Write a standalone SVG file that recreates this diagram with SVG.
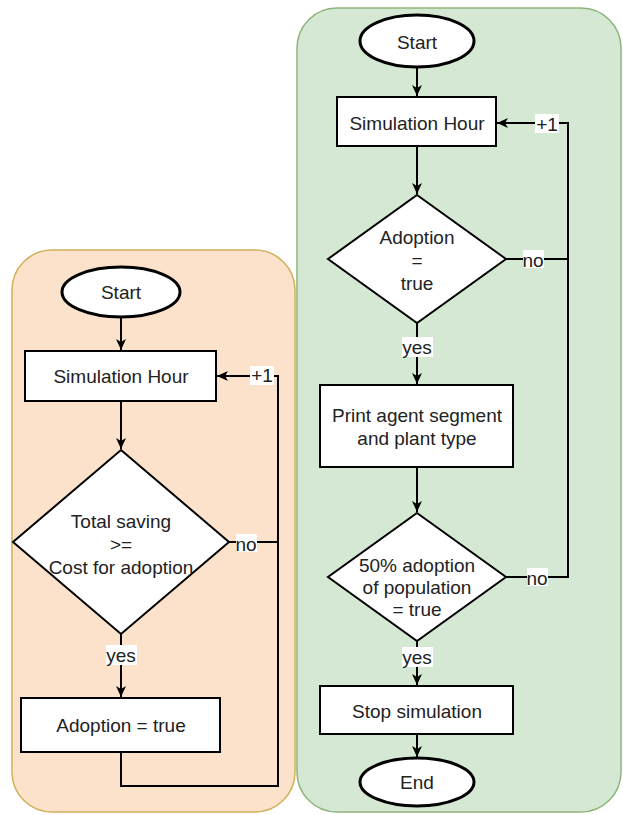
<svg xmlns="http://www.w3.org/2000/svg" width="623" height="815" viewBox="0 0 623 815">
<defs>
<marker id="arr" markerWidth="12" markerHeight="12" refX="11" refY="6" orient="auto" markerUnits="userSpaceOnUse">
<path d="M0,1 L11,6 L0,11 L3,6 Z" fill="#000"/>
</marker>
<style>
.panel-o{fill:#FCE2CB;stroke:#D2B05A;stroke-width:1.5}
.panel-g{fill:#D5E8D4;stroke:#8DB57A;stroke-width:1.5}
.box{fill:#fff;stroke:#000;stroke-width:2}
.term{fill:#fff;stroke:#000;stroke-width:3}
.t{font-family:"Liberation Sans",Arial,sans-serif;font-size:19px;fill:#222;text-anchor:middle;dominant-baseline:central}
.lbl{fill:#fff}
.edge{fill:none;stroke:#000;stroke-width:2}
.arrow{marker-end:url(#arr)}
</style>
</defs>

<rect id="panel-left" class="panel-o" x="12" y="250" width="283" height="562" rx="40"/>
<rect id="panel-right" class="panel-g" x="297" y="8" width="324" height="804" rx="40"/>

<g id="connectors">
<!-- left -->
<path class="edge arrow" d="M121,318 L121,350"/>
<path class="edge arrow" d="M121,401 L121,449"/>
<path class="edge arrow" d="M229,542 L278,542 L278,376 L217,376"/>
<path class="edge arrow" d="M121,634 L121,697"/>
<path class="edge" d="M121,752 L121,786 L278,786 L278,542"/>
<!-- right -->
<path class="edge arrow" d="M417,67 L417,96"/>
<path class="edge arrow" d="M417,146 L417,194"/>
<path class="edge" d="M506,259 L568,259"/>
<path class="edge arrow" d="M506,577 L568,577 L568,123 L497,123"/>
<path class="edge arrow" d="M417,323 L417,384"/>
<path class="edge arrow" d="M417,467 L417,512"/>
<path class="edge arrow" d="M417,641 L417,685"/>
<path class="edge arrow" d="M417,734 L417,757"/>
</g>

<g id="edge-labels">
<rect class="lbl" x="236" y="534" width="21" height="18"/><text class="t" x="246" y="544">no</text>
<rect class="lbl" x="250" y="366" width="24" height="19"/><text class="t" x="262" y="375">+1</text>
<rect class="lbl" x="106" y="645" width="31" height="20"/><text class="t" x="121" y="655">yes</text>
<rect class="lbl" x="523" y="250" width="21" height="18"/><text class="t" x="533" y="260">no</text>
<rect class="lbl" x="535" y="114" width="24" height="19"/><text class="t" x="547" y="124">+1</text>
<rect class="lbl" x="402" y="337" width="31" height="20"/><text class="t" x="417" y="347">yes</text>
<rect class="lbl" x="527" y="568" width="21" height="18"/><text class="t" x="537" y="578">no</text>
<rect class="lbl" x="402" y="647" width="31" height="20"/><text class="t" x="417" y="657">yes</text>
</g>

<g id="l-start">
<ellipse class="term" cx="121" cy="292" rx="59" ry="25"/>
<text class="t" x="121" y="292">Start</text>
</g>
<g id="l-simhour">
<rect class="box" x="25" y="351" width="191" height="50"/>
<text class="t" x="121" y="376">Simulation Hour</text>
</g>
<g id="l-decision">
<polygon class="box" points="121,450 229,542 121,634 13,542"/>
<text class="t" x="121" y="521">Total saving</text>
<text class="t" x="121" y="544">&gt;=</text>
<text class="t" x="121" y="567">Cost for adoption</text>
</g>
<g id="l-adoption">
<rect class="box" x="21" y="698" width="199" height="54"/>
<text class="t" x="121" y="725">Adoption = true</text>
</g>

<g id="r-start">
<ellipse class="term" cx="417" cy="41" rx="57" ry="26"/>
<text class="t" x="417" y="42">Start</text>
</g>
<g id="r-simhour">
<rect class="box" x="337" y="97" width="159" height="49"/>
<text class="t" x="417" y="123">Simulation Hour</text>
</g>
<g id="r-decision1">
<polygon class="box" points="417,195 506,259 417,323 328,259"/>
<text class="t" x="417" y="237">Adoption</text>
<text class="t" x="417" y="260">=</text>
<text class="t" x="417" y="283">true</text>
</g>
<g id="r-print">
<rect class="box" x="320" y="385" width="193" height="82"/>
<text class="t" x="417" y="415">Print agent segment</text>
<text class="t" x="417" y="438">and plant type</text>
</g>
<g id="r-decision2">
<polygon class="box" points="417,513 506,577 417,641 328,577"/>
<text class="t" x="417" y="565">50% adoption</text>
<text class="t" x="417" y="587">of population</text>
<text class="t" x="417" y="609">= true</text>
</g>
<g id="r-stop">
<rect class="box" x="320" y="686" width="193" height="48"/>
<text class="t" x="417" y="711">Stop simulation</text>
</g>
<g id="r-end">
<ellipse class="term" cx="417" cy="782" rx="57" ry="24"/>
<text class="t" x="417" y="782">End</text>
</g>
</svg>
